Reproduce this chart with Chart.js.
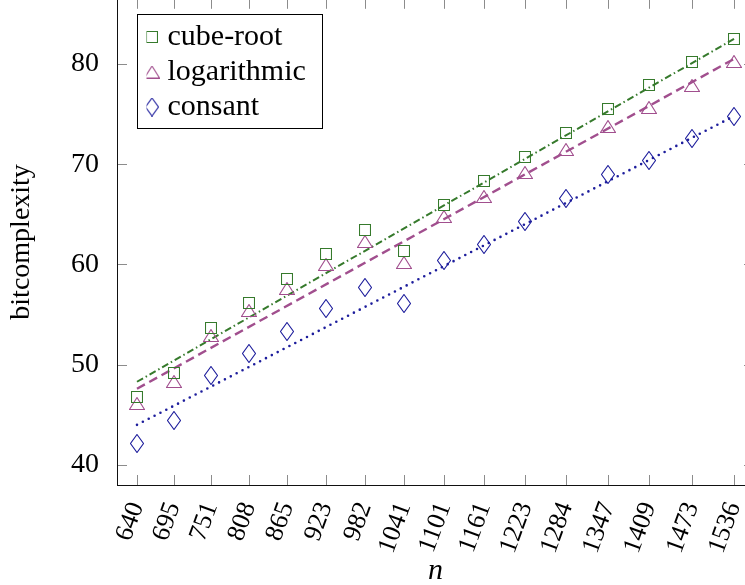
<!DOCTYPE html>
<html>
<head>
<meta charset="utf-8">
<script src="https://cdn.jsdelivr.net/npm/chart.js@4.4.1/dist/chart.umd.min.js"></script>
<style>
  html, body { margin: 0; padding: 0; background: #fff; overflow: hidden; }
  body { width: 745px; height: 585px; position: relative; }
  #chart { position: absolute; left: 0; top: -10px; }
</style>
</head>
<body>
<canvas id="chart" width="770" height="600"></canvas>
<script>
const nValues = [640, 695, 751, 808, 865, 923, 982, 1041, 1101, 1161, 1223, 1284, 1347, 1409, 1473, 1536];
const cubeRoot = [46.8, 49.2, 53.7, 56.2, 58.5, 61.0, 63.4, 61.3, 65.9, 68.3, 70.7, 73.1, 75.5, 77.9, 80.2, 82.5];
const logarithmic = [46.1, 48.3, 52.9, 55.4, 57.6, 60.0, 62.3, 60.2, 64.8, 66.8, 69.2, 71.5, 73.8, 75.7, 77.9, 80.2];
const constant = [42.1, 44.4, 48.9, 51.1, 53.3, 55.6, 57.7, 56.1, 60.4, 62.0, 64.3, 66.6, 69.0, 70.4, 72.6, 74.8];
const yTicks = [40, 50, 60, 70, 80];

// fitted trend lines, first and last n only
const fitN = [640, 1536];
const cubeRootFit = [48.3, 82.5];
const logarithmicFit = [47.6, 80.5];
const constantFit = [44.0, 74.8];

const green = '#367a2c';
const purple = '#a14f8e';
const blue = '#1d1d9c';
const serif = 'Liberation Serif';

// open markers drawn once on small canvases, used as pointStyle
function marker(w, h, color, path) {
  const c = document.createElement('canvas');
  c.width = w;
  c.height = h;
  const ctx = c.getContext('2d');
  ctx.strokeStyle = color;
  ctx.lineWidth = 1.1;
  ctx.beginPath();
  path(ctx);
  ctx.closePath();
  ctx.stroke();
  return c;
}

const squareMark = marker(12, 12, green, ctx => ctx.rect(0.5, 0.5, 11, 11));
const triangleMark = marker(16, 13, purple, ctx => {
  ctx.moveTo(8, 0.5);
  ctx.lineTo(15.5, 12.5);
  ctx.lineTo(0.5, 12.5);
});
const diamondMark = marker(14, 19, blue, ctx => {
  ctx.moveTo(7, 0.5);
  ctx.lineTo(13.5, 9.5);
  ctx.lineTo(7, 18.5);
  ctx.lineTo(0.5, 9.5);
});

const points = ys => nValues.map((n, i) => ({ x: n, y: ys[i] }));
const fitLine = ys => fitN.map((n, i) => ({ x: n, y: ys[i] }));

// tick marks on all four sides, the frame and the legend border
const axisFrame = {
  id: 'axisFrame',
  afterLayout(chart) {
    const a = chart.chartArea;
    chart.legend.left = a.left + 29.5;
    chart.legend.top = a.top + 18.2;
  },
  beforeDatasetsDraw(chart) {
    // keep the marker images sharp
    chart.ctx.save();
    chart.ctx.imageSmoothingEnabled = false;
  },
  afterDatasetsDraw(chart) {
    chart.ctx.restore();
  },
  afterDraw(chart) {
    const { ctx, chartArea: a, scales: { x, y } } = chart;
    ctx.save();
    ctx.strokeStyle = '#8c8c8c';
    ctx.lineWidth = 1;
    ctx.beginPath();
    nValues.forEach(v => {
      const px = Math.round(x.getPixelForValue(v)) + 0.5;
      ctx.moveTo(px, a.bottom);
      ctx.lineTo(px, a.bottom - 10);
      ctx.moveTo(px, a.top);
      ctx.lineTo(px, a.top + 10);
    });
    yTicks.forEach(v => {
      const py = Math.round(y.getPixelForValue(v)) + 0.5;
      ctx.moveTo(a.left, py);
      ctx.lineTo(a.left + 10, py);
      ctx.moveTo(a.right, py);
      ctx.lineTo(a.right - 10, py);
    });
    ctx.stroke();

    ctx.strokeStyle = '#111';
    ctx.strokeRect(Math.round(a.left) + 0.5, Math.round(a.top) + 0.5,
      Math.round(a.width), Math.round(a.height));

    const boxes = chart.legend.legendHitBoxes;
    if (boxes && boxes.length) {
      const left = Math.min(...boxes.map(b => b.left)) - 14.5;
      const top = Math.min(...boxes.map(b => b.top)) - 8;
      const right = Math.max(...boxes.map(b => b.left + b.width)) + 16;
      const bottom = Math.max(...boxes.map(b => b.top + b.height)) + 6;
      ctx.strokeStyle = '#000';
      ctx.strokeRect(Math.round(left) + 0.5, Math.round(top) + 0.5,
        Math.round(right - left), Math.round(bottom - top));
    }
    ctx.restore();
  }
};

new Chart(document.getElementById('chart'), {
  type: 'scatter',
  data: {
    datasets: [
      {
        label: 'cube-root',
        data: points(cubeRoot),
        pointStyle: squareMark,
        pointRadius: 6,
        pointHoverRadius: 6,
        borderColor: green,
        backgroundColor: green,
        order: 0
      },
      {
        label: 'logarithmic',
        data: points(logarithmic),
        pointStyle: triangleMark,
        pointRadius: 6,
        pointHoverRadius: 6,
        borderColor: purple,
        backgroundColor: purple,
        order: 0
      },
      {
        label: 'consant',
        data: points(constant),
        pointStyle: diamondMark,
        pointRadius: 6,
        pointHoverRadius: 6,
        borderColor: blue,
        backgroundColor: blue,
        order: 0
      },
      {
        label: 'cube-root fit',
        data: fitLine(cubeRootFit),
        showLine: true,
        pointRadius: 0,
        borderColor: green,
        borderWidth: 2,
        borderDash: [7, 3, 1.5, 3],
        order: 1
      },
      {
        label: 'logarithmic fit',
        data: fitLine(logarithmicFit),
        showLine: true,
        pointRadius: 0,
        borderColor: purple,
        borderWidth: 2.4,
        borderDash: [9, 5],
        order: 1
      },
      {
        label: 'consant fit',
        data: fitLine(constantFit),
        showLine: true,
        pointRadius: 0,
        borderColor: blue,
        borderWidth: 2.6,
        borderCapStyle: 'round',
        borderDash: [0, 6.6],
        order: 1
      }
    ]
  },
  options: {
    responsive: false,
    animation: false,
    layout: { padding: { top: 8.8, right: 16, left: 0, bottom: 0 } },
    plugins: {
      tooltip: { enabled: false },
      legend: {
        position: 'chartArea',
        align: 'start',
        labels: {
          usePointStyle: true,
          boxWidth: 1,
          padding: 5,
          color: '#000',
          font: { family: serif, size: 30 },
          filter: item => item.datasetIndex < 3
        }
      }
    },
    scales: {
      x: {
        type: 'linear',
        min: 610,
        max: 1566,
        grid: { display: false },
        border: { display: false },
        afterBuildTicks: scale => { scale.ticks = nValues.map(v => ({ value: v })); },
        afterFit: scale => {
          scale.height = 105;
          scale.paddingLeft = 0;
          scale.paddingRight = 0;
        },
        ticks: {
          autoSkip: false,
          minRotation: 70,
          maxRotation: 70,
          padding: 5,
          color: '#000',
          font: { family: serif, size: 26 },
          callback: v => String(v)
        },
        title: {
          display: true,
          text: 'n',
          color: '#000',
          font: { family: serif, size: 30, style: 'italic' },
          padding: { top: 0, bottom: 1 }
        }
      },
      y: {
        min: 38,
        max: 86.5,
        grid: { display: false },
        border: { display: false },
        afterBuildTicks: scale => { scale.ticks = yTicks.map(v => ({ value: v })); },
        afterFit: scale => {
          scale.width = 117;
          scale.paddingTop = 0;
          scale.paddingBottom = 0;
        },
        ticks: {
          padding: 10,
          color: '#000',
          font: { family: serif, size: 28 }
        },
        title: {
          display: true,
          text: 'bitcomplexity',
          color: '#000',
          font: { family: serif, size: 28 },
          padding: { top: 5, bottom: 0 }
        }
      }
    }
  },
  plugins: [axisFrame]
});
</script>
</body>
</html>
